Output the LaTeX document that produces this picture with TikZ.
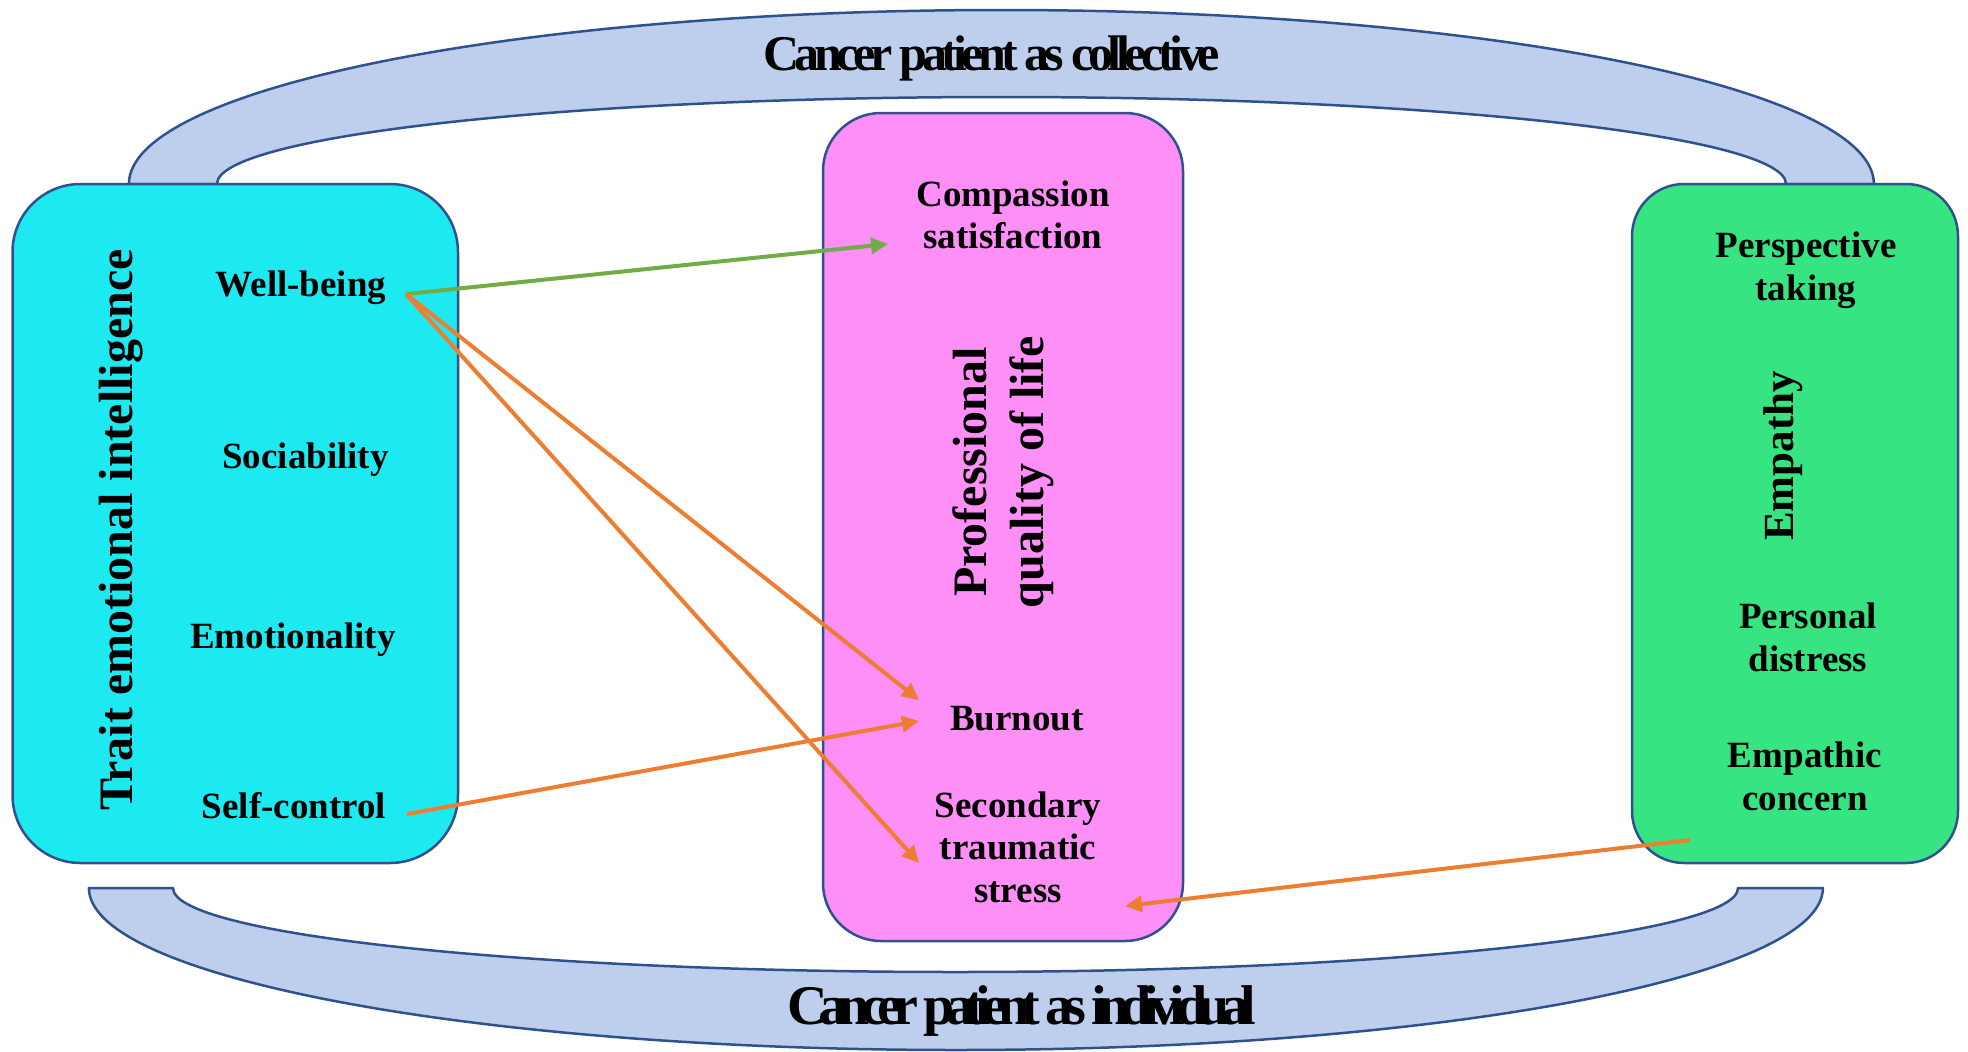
\documentclass[tikz,border=0pt]{standalone}
\usepackage{fontspec}
\setmainfont{Liberation Serif}
\usetikzlibrary{arrows.meta}

\definecolor{outline}{RGB}{47,82,143}
\definecolor{bandblue}{RGB}{190,207,238}
\definecolor{teifill}{RGB}{29,233,240}
\definecolor{proqolfill}{RGB}{253,143,247}
\definecolor{empfill}{RGB}{54,228,130}
\definecolor{posarrow}{RGB}{112,173,71}
\definecolor{negarrow}{RGB}{237,125,49}

\tikzset{
  band/.style={draw=outline, fill=bandblue, line width=2.5pt, line join=round},
  panel/.style={draw=outline, line width=2.5pt, rounded corners=#1, inner sep=0pt},
  item/.style={font=\fontsize{37}{42.5}\selectfont\bfseries, align=center, inner sep=0pt},
  heading/.style={font=\fontsize{48}{57}\selectfont\bfseries, align=center, inner sep=0pt, rotate=90},
  bandlabel/.style={inner sep=0pt, anchor=base},
  link/.style={line width=4pt, -{Triangle[length=17pt,width=16pt]}},
}

\begin{document}
\begin{tikzpicture}[x=1pt, y=-1pt]
\useasboundingbox (0,0) rectangle (1968,1052);

% upper band: patient as collective (y axis points down, so 270 is the top)
\path[band] (128.9,184) arc[start angle=180, end angle=360, x radius=872.5, y radius=174]
  -- (1786,184) arc[start angle=360, end angle=180, x radius=784.5, y radius=87] -- cycle;
% lower band: patient as individual
\path[band] (88.9,888) arc[start angle=180, end angle=0, x radius=867, y radius=162]
  -- (1738,888) arc[start angle=0, end angle=180, x radius=782.5, y radius=84] -- cycle;

\node[bandlabel, font=\fontsize{50}{60}\selectfont\bfseries\addfontfeatures{LetterSpace=-10.7}]
  (collective) at (992,70) {Cancer patient as collective};
\node[bandlabel, font=\fontsize{56}{66}\selectfont\bfseries\addfontfeatures{LetterSpace=-15.5}]
  (individual) at (1022,1024) {Cancer patient as individual};

% the three construct panels
\node[panel=68pt, fill=teifill, minimum width=445.5pt, minimum height=679pt] (tei) at (235.25,523.5) {};
\node[panel=58pt, fill=proqolfill, minimum width=360pt, minimum height=828pt] (proqol) at (1003,527) {};
\node[panel=52pt, fill=empfill, minimum width=326pt, minimum height=679pt] (emp) at (1795,523.5) {};

% trait emotional intelligence
\node[heading, anchor=base] (teititle) at (132,530) {Trait emotional intelligence};
\node[item, anchor=base] (wb) at (301,296) {Well-being};
\node[item, anchor=base] (soc) at (305.5,468) {Sociability};
\node[item, anchor=base] (emo) at (293,648) {Emotionality};
\node[item, anchor=base] (sc) at (294,818) {Self-control};

% professional quality of life
\node[heading] (proqoltitle) at (1003,472) {Professional\\quality of life};
\node[item] (cs) at (1013,215) {Compassion\\satisfaction};
\node[item, anchor=base] (burn) at (1017,730) {Burnout};
\node[item] (sts) at (1018,847) {Secondary\\traumatic\\stress};

% empathy
\node[heading, font=\fontsize{43}{50}\selectfont\bfseries, anchor=base] (emptitle) at (1793,456) {Empathy};
\node[item] (pt) at (1806,270) {Perspective\\taking};
\node[item] (pd) at (1808,637.5) {Personal\\distress};
\node[item] (ec) at (1805,776.5) {Empathic\\concern};

% connector ends
\coordinate (wbout) at (406,294);
\coordinate (scout) at (407,814);
\coordinate (ecout) at (1690,840);
\coordinate (csin) at (888,244);
\coordinate (burnin1) at (919,700);
\coordinate (burnin2) at (919,721);
\coordinate (stsin1) at (919,863);
\coordinate (stsin2) at (1125,906);

\draw[link, posarrow] (wbout) -- (csin);
\draw[link, negarrow] (wbout) -- (burnin1);
\draw[link, negarrow] (wbout) -- (stsin1);
\draw[link, negarrow] (scout) -- (burnin2);
\draw[link, negarrow] (ecout) -- (stsin2);
\end{tikzpicture}
\end{document}
